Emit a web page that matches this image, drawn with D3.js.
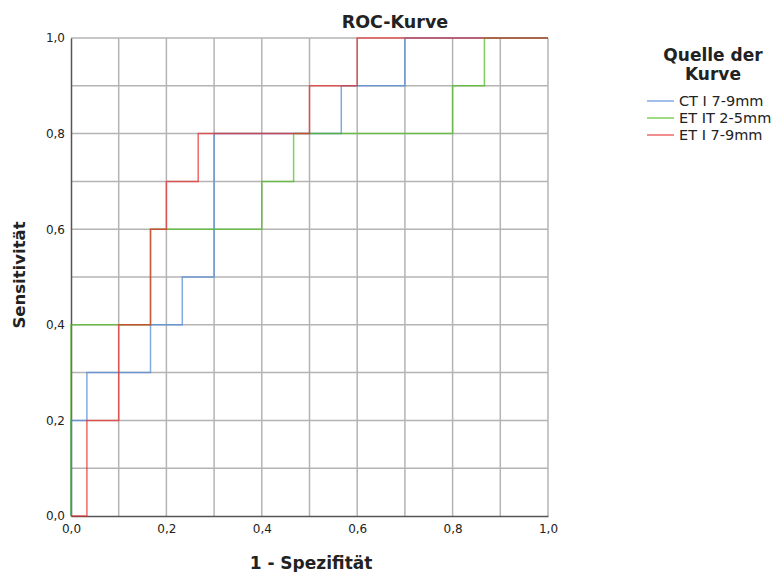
<!DOCTYPE html>
<html><head><meta charset="utf-8">
<script src="https://cdn.jsdelivr.net/npm/d3@7"></script>
<style>body{margin:0;background:#fff}svg{display:block}text{font-family:"DejaVu Sans","Open Sans",sans-serif}</style>
</head><body><svg id="c" width="777" height="572"></svg>
<script>
const seriesNames = ["CT I 7-9mm", "ET IT 2-5mm", "ET I 7-9mm"];
const seriesColors = ["#4a86d8", "#4cbb1a", "#e82a2a"];
// ROC step points [1-specificity, sensitivity]
const ctX = [0, 0, 1/30, 1/30, 5/30, 5/30, 7/30, 7/30, 9/30, 9/30, 17/30, 17/30, 21/30, 21/30, 1];
const ctY = [0, 0.2, 0.2, 0.3, 0.3, 0.4, 0.4, 0.5, 0.5, 0.8, 0.8, 0.9, 0.9, 1.0, 1.0];
const etitX = [0, 0, 5/30, 5/30, 12/30, 12/30, 14/30, 14/30, 24/30, 24/30, 26/30, 26/30, 1];
const etitY = [0, 0.4, 0.4, 0.6, 0.6, 0.7, 0.7, 0.8, 0.8, 0.9, 0.9, 1.0, 1.0];
const etiX = [0, 1/30, 1/30, 3/30, 3/30, 5/30, 5/30, 6/30, 6/30, 8/30, 8/30, 15/30, 15/30, 18/30, 18/30, 1];
const etiY = [0, 0, 0.2, 0.2, 0.4, 0.4, 0.6, 0.6, 0.7, 0.7, 0.8, 0.8, 0.9, 0.9, 1.0, 1.0];
const tickValues = [0, 0.2, 0.4, 0.6, 0.8, 1.0];
const tickLabels = ["0,0", "0,2", "0,4", "0,6", "0,8", "1,0"];
const gridValues = [0.1, 0.2, 0.3, 0.4, 0.5, 0.6, 0.7, 0.8, 0.9, 1.0];

const svg = d3.select("#c");
const L = 71, R = 548, T = 38, B = 516;
const x = d3.scaleLinear().domain([0, 1]).range([L, R]);
const y = d3.scaleLinear().domain([0, 1]).range([B, T]);

// grid
svg.append("g").selectAll("line").data(gridValues).join("line")
  .attr("x1", d => x(d)).attr("x2", d => x(d)).attr("y1", T).attr("y2", B)
  .attr("stroke", "#b4b4b4").attr("stroke-width", 1.5);
svg.append("g").selectAll("line").data(gridValues).join("line")
  .attr("y1", d => y(d)).attr("y2", d => y(d)).attr("x1", L).attr("x2", R)
  .attr("stroke", "#b4b4b4").attr("stroke-width", 1.5);

// axes
const xAxis = d3.axisBottom(x).tickValues(tickValues).tickFormat((d, i) => tickLabels[i]).tickSize(0).tickPadding(8);
const yAxis = d3.axisLeft(y).tickValues(tickValues).tickFormat((d, i) => tickLabels[i]).tickSize(0).tickPadding(6);
const gx = svg.append("g").attr("transform", `translate(0,${B})`).call(xAxis);
const gy = svg.append("g").attr("transform", `translate(${L},0)`).call(yAxis);
[gx, gy].forEach(g => {
  g.select(".domain").attr("stroke", "#555").attr("stroke-width", 1.5);
  g.selectAll("text").attr("font-size", 12).attr("fill", "#222");
});

// curves
const seriesX = [ctX, etitX, etiX];
const seriesY = [ctY, etitY, etiY];
const line = d3.line().x(d => x(d[0])).y(d => y(d[1]));
seriesNames.forEach((n, i) => {
  const pts = seriesX[i].map((v, j) => [v, seriesY[i][j]]);
  svg.append("path").datum(pts).attr("d", line)
    .attr("fill", "none").attr("stroke", seriesColors[i]).attr("stroke-width", 1.5)
    .attr("stroke-opacity", 0.7);
});

// title
svg.append("text").attr("x", 395).attr("y", 28).attr("text-anchor", "middle")
  .attr("font-size", 17.5).attr("font-weight", "bold").attr("fill", "#222").text("ROC-Kurve");
// axis titles
svg.append("text").attr("x", 311).attr("y", 569).attr("text-anchor", "middle")
  .attr("font-size", 17).attr("font-weight", "bold").attr("fill", "#222").text("1 - Spezifität");
svg.append("text").attr("transform", "translate(25,275) rotate(-90)").attr("text-anchor", "middle")
  .attr("font-size", 16.5).attr("font-weight", "bold").attr("fill", "#222").text("Sensitivität");

// legend
svg.append("text").attr("x", 713).attr("y", 61).attr("text-anchor", "middle")
  .attr("font-size", 17).attr("font-weight", "bold").attr("fill", "#222").text("Quelle der");
svg.append("text").attr("x", 713).attr("y", 80).attr("text-anchor", "middle")
  .attr("font-size", 17).attr("font-weight", "bold").attr("fill", "#222").text("Kurve");
seriesNames.forEach((n, i) => {
  const yy = 101 + i * 17;
  svg.append("line").attr("x1", 647).attr("x2", 674).attr("y1", yy).attr("y2", yy)
    .attr("stroke", seriesColors[i]).attr("stroke-width", 1.5).attr("stroke-opacity", 0.7);
  svg.append("text").attr("x", 679).attr("y", yy + 5).attr("font-size", 14.5).attr("fill", "#222").text(n);
});
</script></body></html>
